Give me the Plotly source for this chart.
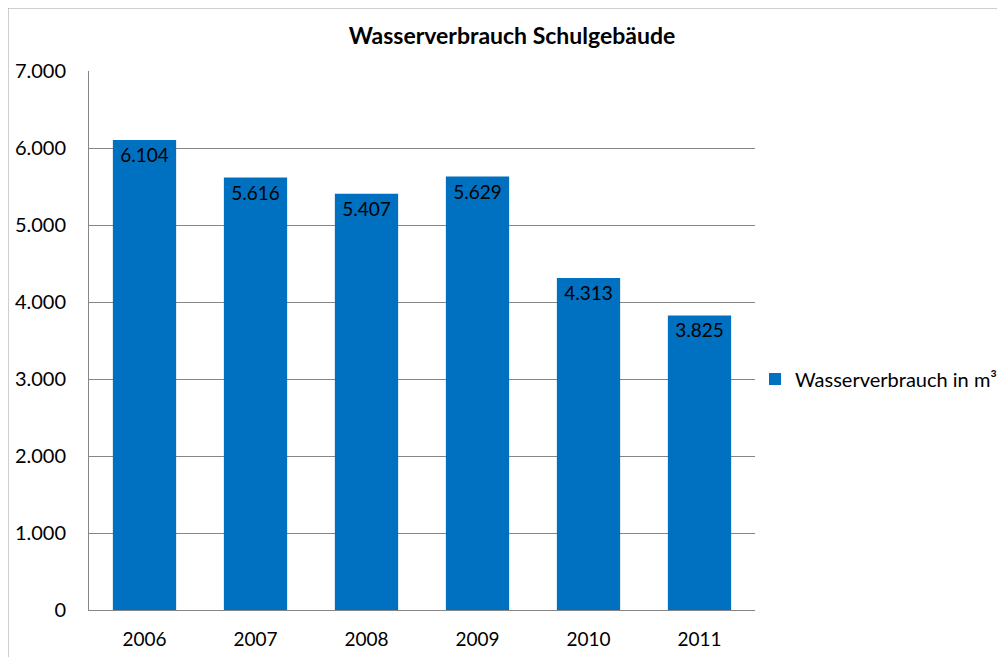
import plotly.graph_objects as go

years = ["2006", "2007", "2008", "2009", "2010", "2011"]
values = [6104, 5616, 5407, 5629, 4313, 3825]
series_name = "Wasserverbrauch in m³"
title = "Wasserverbrauch Schulgebäude"

FONT = "Lato, Carlito, Calibri, sans-serif"

# page has an 8px body margin; compensate so on-screen positions match
DX, DY = 8, 7

W, H = 1005, 657
# target on-screen plot area: x 89..755, y 70..609
l = 89 - DX
t = 70 - DY
r = W - (755 - DX)
b = H - (609 - DY)
pw = W - l - r
ph = H - t - b


def px_x(px):
    return (px - DX - l) / pw


def px_y(py):
    return (H - b - (py - DY)) / ph


fig = go.Figure()
fig.add_trace(go.Bar(
    x=years, y=values, name=series_name,
    marker=dict(color="#0070C0", line=dict(width=0)),
    text=[f"{v:,}".replace(",", ".") for v in values],
    textposition="inside", insidetextanchor="end",
    textfont=dict(family=FONT, size=19, color="black"),
    textangle=0, showlegend=True,
))

fig.update_layout(
    width=W, height=H,
    margin=dict(l=l, r=r, t=t, b=b, autoexpand=False),
    paper_bgcolor="white", plot_bgcolor="white",
    separators=",.",
    bargap=0.43,
    font=dict(family=FONT, size=19, color="black"),
    title=dict(text="<b>" + title + "</b>", x=(512 - DX) / W, xanchor="center",
               y=1 - (35 - DY) / H, yanchor="middle",
               font=dict(family=FONT, size=23, color="black")),
    legend=dict(x=px_x(755), y=px_y(378), xanchor="left", yanchor="middle",
                font=dict(family=FONT, size=20, color="black"),
                itemwidth=30, bgcolor="rgba(0,0,0,0)"),
    xaxis=dict(showline=True, linecolor="#868686", linewidth=1,
               ticks="", showgrid=False, tickfont=dict(size=19),
               ticklabelstandoff=12, automargin=False),
    yaxis=dict(range=[0, 7000], dtick=1000, tickformat=",d",
               showline=True, linecolor="#868686", linewidth=1,
               gridcolor="#868686", gridwidth=1, ticks="",
               tickfont=dict(size=20), ticklabelstandoff=18,
               zeroline=False, automargin=False),
    shapes=[
        dict(type="line", xref="paper", yref="paper",
             x0=px_x(8), x1=px_x(8), y0=px_y(7), y1=px_y(700),
             line=dict(color="#A0A0A0", width=1)),
        dict(type="line", xref="paper", yref="paper",
             x0=px_x(8), x1=px_x(1100), y0=px_y(7), y1=px_y(7),
             line=dict(color="#A0A0A0", width=1)),
    ],
)

fig.write_html("out.html")
